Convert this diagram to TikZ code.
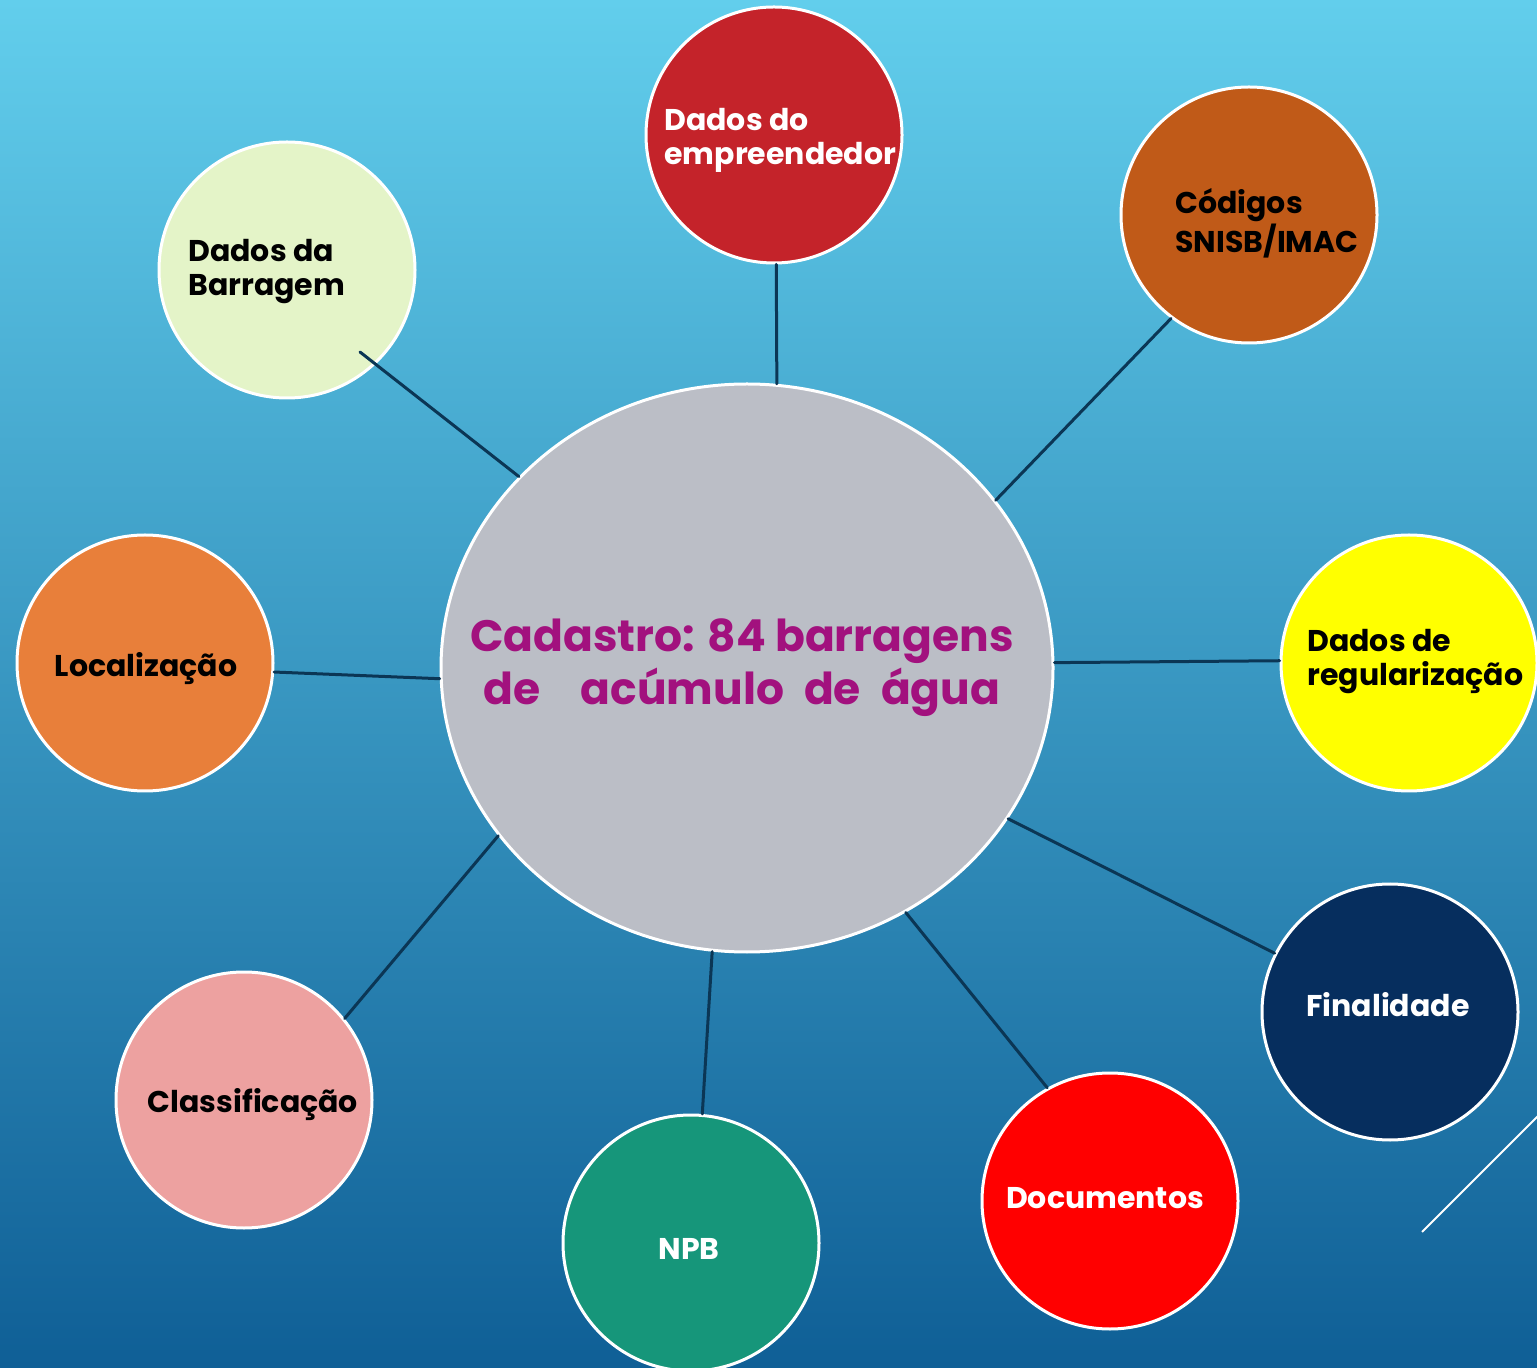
\documentclass[tikz,border=0pt]{standalone}
\usepackage{fontspec}
\setmainfont{Poppins}
\usetikzlibrary{shapes}

\definecolor{bgtop}{HTML}{62CEEC}
\definecolor{bgbot}{HTML}{0F5F96}
\definecolor{spokeblue}{HTML}{0B3655}
\definecolor{cadgray}{HTML}{BBBEC6}
\definecolor{cadtext}{HTML}{A2117E}
\definecolor{empred}{HTML}{C4232A}
\definecolor{codbrown}{HTML}{C05A18}
\definecolor{barlight}{HTML}{E4F4C8}
\definecolor{locorange}{HTML}{E87F3A}
\definecolor{regyellow}{HTML}{FFFF00}
\definecolor{finnavy}{HTML}{062E5E}
\definecolor{docred}{HTML}{FF0000}
\definecolor{npbteal}{HTML}{16967A}
\definecolor{clapink}{HTML}{EDA1A0}

\begin{document}
\begin{tikzpicture}[x=0.5pt, y=-0.5pt,
  bubble/.style={circle, draw=white, line width=1.5pt, minimum size=128pt, inner sep=0pt},
  spoke/.style={draw=spokeblue, line width=1.5pt, line cap=round},
  lbl/.style={font=\bfseries\fontsize{15}{17}\selectfont, align=left, inner sep=0pt, text height=11pt, text depth=3.5pt}]
  \useasboundingbox (0,0) rectangle (1537,1368);
  \clip (0,0) rectangle (1537,1368);
  \shade[top color=bgtop, bottom color=bgbot] (0,0) rectangle (1537,1368);
  \draw[white, line width=1pt] (1422,1232) -- (1540,1114);

  % Bubbles
  \node[ellipse, draw=white, line width=1.5pt, fill=cadgray, minimum width=306pt, minimum height=284pt, inner sep=0pt] (cad) at (747,668) {};
  \node[bubble, fill=empred] (emp) at (774,135) {};
  \node[bubble, fill=codbrown] (cod) at (1249,215) {};
  \node[bubble, fill=barlight] (bar) at (287,270) {};
  \node[bubble, fill=locorange] (loc) at (145,663) {};
  \node[bubble, fill=regyellow] (reg) at (1409,663) {};
  \node[bubble, fill=finnavy] (fin) at (1390,1012) {};
  \node[bubble, fill=docred] (doc) at (1110,1201) {};
  \node[bubble, fill=npbteal] (npb) at (691,1243) {};
  \node[bubble, fill=clapink] (cla) at (244,1100) {};
  \coordinate (barend) at (360,352);

  % Labels
  \node[font=\bfseries\fontsize{22}{26.5}\selectfont, align=center, inner sep=0pt, text height=18pt, text depth=5pt, text=cadtext] (cadlbl) at (742,692) {Cadastro: 84 barragens\\{\spaceskip=10pt de\ \ acúmulo de água}};
  \node[lbl, text=white, anchor=west] (emplbl) at (664,157.5) {Dados do\\empreendedor};
  \node[lbl, anchor=west] (codlbl) at (1175,245) {Códigos\\SNISB/IMAC};
  \node[lbl, anchor=west] (barlbl) at (188,288.5) {Dados da\\Barragem};
  \node[lbl] (loclbl) at (146,669.5) {Localização};
  \node[lbl, anchor=west] (reglbl) at (1307,678.5) {Dados de\\regularização};
  \node[lbl, text=white] (finlbl) at (1388,1008.5) {Finalidade};
  \node[lbl, text=white] (doclbl) at (1105,1200.5) {Documentos};
  \node[lbl, text=white] (npblbl) at (689,1251.5) {NPB};
  \node[lbl] (clalbl) at (253,1104.5) {Classificação};

  % Edges
  \draw[spoke] (cad.84) to (emp.271);
  \draw[spoke] (cad.34) to (cod.233);
  \draw[spoke] (cad.140) to (barend);
  \draw[spoke] (cad.182) to (loc.-4.5);
  \draw[spoke] (cad.1.6) to (reg.179.2);
  \draw[spoke] (cad.-30.5) to (fin.153.2);
  \draw[spoke] (cad.-57.8) to (doc.119.9);
  \draw[spoke] (cad.-97.6) to (npb.85.1);
  \draw[spoke] (cad.214.4) to (cla.39.6);
\end{tikzpicture}
\end{document}
